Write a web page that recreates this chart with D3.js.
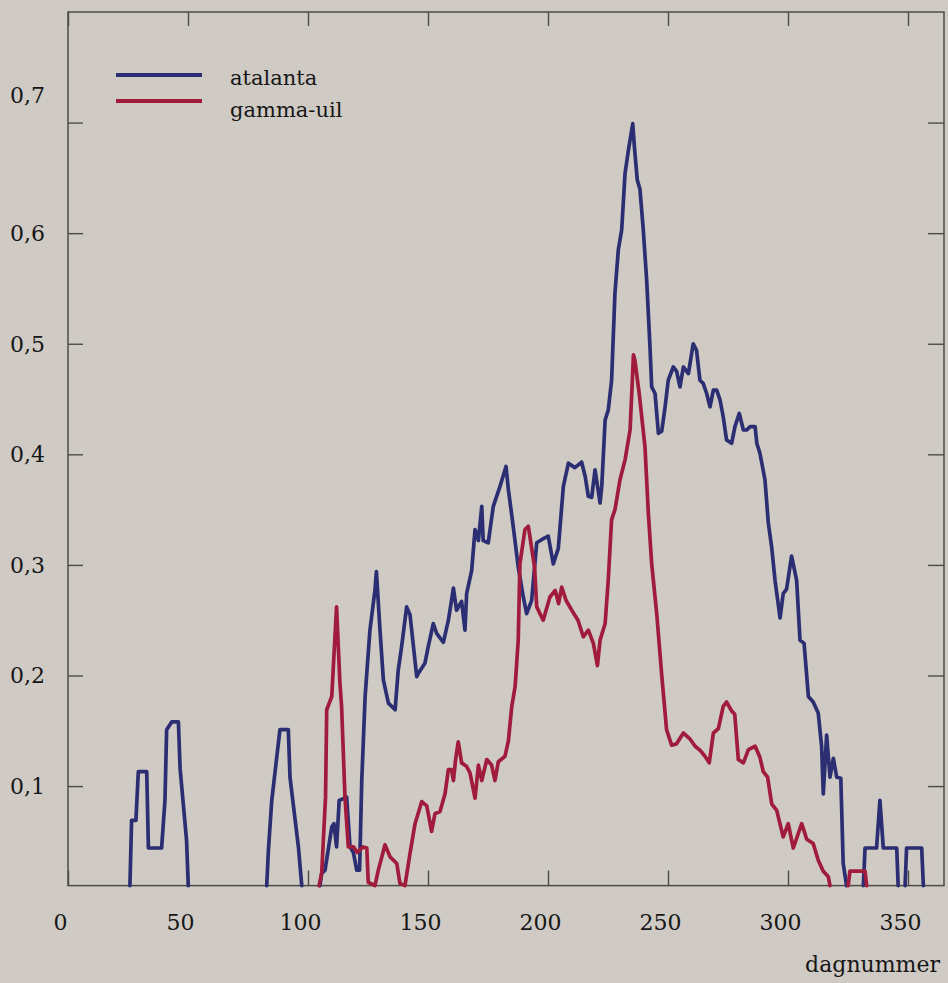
<!DOCTYPE html>
<html>
<head>
<meta charset="utf-8">
<script src="https://cdn.jsdelivr.net/npm/d3@7"></script>
<style>
  html, body { margin: 0; padding: 0; background: #cfcac4; }
  svg { display: block; }
</style>
</head>
<body>
<script>
// Axis ticks
const xTicks = [0, 50, 100, 150, 200, 250, 300, 350];
const yTicks = [0.1, 0.2, 0.3, 0.4, 0.5, 0.6, 0.7];
const xTitle = "dagnummer";

// Series names (legend order)
const seriesNames = ["atalanta", "gamma-uil"];

// Running daily fraction per day number; null marks a gap where the count is zero
const atalanta = [
  [25.8,0],[26.5,0.069],[28.3,0.069],[29.3,0.113],[32.8,0.113],[33.5,0.044],[39.0,0.044],[40.4,0.087],
  [41.1,0.151],[43.2,0.158],[46.0,0.158],[46.7,0.116],[49.4,0.051],[50.1,0],
  null,
  [82.8,0],[83.5,0.042],[84.9,0.087],[88.3,0.151],[91.8,0.151],[92.5,0.108],[96.0,0.045],[97.4,0],
  null,
  [105.0,0],[105.7,0.021],[107.1,0.024],[109.9,0.063],[110.8,0.066],[111.9,0.045],[113.0,0.087],[116.1,0.090],
  [117.5,0.045],[118.9,0.040],[120.3,0.024],[121.5,0.024],[122.4,0.105],[123.8,0.181],[125.8,0.241],[127.9,0.277],
  [128.5,0.294],[130.0,0.241],[131.4,0.196],[133.5,0.175],[136.3,0.169],[137.6,0.205],[139.0,0.226],[141.1,0.262],
  [142.5,0.255],[145.3,0.199],[146.0,0.202],[148.7,0.211],[150.1,0.226],[152.2,0.247],[153.6,0.238],[156.4,0.230],
  [158.5,0.250],[160.6,0.279],[161.9,0.259],[164.0,0.267],[165.4,0.241],[166.1,0.274],[168.2,0.295],[169.6,0.332],
  [171.0,0.322],[172.4,0.353],[173.0,0.322],[175.1,0.320],[177.2,0.353],[180.0,0.371],[182.5,0.389],[183.5,0.368],
  [185.5,0.335],[187.6,0.298],[189.7,0.271],[191.1,0.256],[193.2,0.268],[195.3,0.320],[197.5,0.323],[200.1,0.326],
  [202.2,0.301],[204.3,0.315],[206.4,0.371],[208.5,0.392],[211.2,0.388],[214.0,0.393],[215.5,0.380],[216.8,0.362],
  [218.2,0.361],[219.6,0.386],[221.7,0.356],[222.4,0.371],[223.8,0.431],[225.1,0.440],[226.5,0.467],[227.9,0.546],
  [229.3,0.585],[230.7,0.603],[232.1,0.654],[233.5,0.675],[235.3,0.699],[236.0,0.678],[237.2,0.648],[238.3,0.640],
  [239.7,0.603],[241.1,0.558],[242.5,0.497],[243.2,0.461],[244.6,0.455],[246.0,0.419],[247.4,0.421],[248.8,0.443],
  [250.1,0.467],[252.2,0.479],[253.6,0.475],[255.0,0.461],[256.4,0.479],[258.5,0.473],[260.5,0.500],[261.9,0.494],
  [263.3,0.467],[264.7,0.464],[266.1,0.455],[267.5,0.443],[268.9,0.458],[270.3,0.458],[271.7,0.449],[273.0,0.434],
  [274.4,0.413],[276.5,0.410],[277.9,0.425],[279.7,0.437],[281.4,0.422],[282.8,0.422],[284.2,0.425],[286.3,0.425],
  [287.0,0.410],[288.3,0.401],[290.4,0.377],[291.8,0.338],[293.2,0.316],[294.6,0.286],[296.7,0.252],[298.0,0.274],
  [299.4,0.278],[301.5,0.308],[303.6,0.286],[305.0,0.232],[306.7,0.229],[308.5,0.181],[310.5,0.176],[312.6,0.166],
  [314.0,0.136],[314.7,0.093],[316.1,0.146],[317.5,0.108],[318.9,0.125],[320.3,0.108],[322.0,0.107],[323.0,0.030],
  [324.4,0],
  null,
  [331.4,0],[332.1,0.044],[336.9,0.044],[338.3,0.087],[339.7,0.044],[345.3,0.044],[345.9,0],
  null,
  [348.8,0],[349.4,0.044],[355.7,0.044],[356.4,0]
];

const gammaUil = [
  [104.6,0],[105.7,0.021],[107.3,0.090],[107.8,0.169],[109.9,0.181],[111.9,0.262],[113.3,0.193],[114.0,0.172],
  [115.4,0.090],[116.8,0.045],[119.0,0.045],[120.5,0.040],[123.0,0.045],[124.5,0.044],[125.1,0.013],[127.9,0.010],
  [129.3,0.024],[132.1,0.047],[134.2,0.036],[137.0,0.030],[138.3,0.012],[140.4,0.010],[142.5,0.039],[143.9,0.057],
  [144.6,0.066],[147.4,0.086],[149.5,0.082],[151.5,0.059],[152.9,0.075],[155.0,0.077],[157.1,0.093],[158.5,0.115],
  [159.8,0.115],[160.6,0.105],[161.5,0.124],[162.6,0.140],[164.0,0.121],[166.0,0.118],[167.5,0.112],[169.6,0.089],
  [171.0,0.119],[172.4,0.105],[174.5,0.124],[176.5,0.119],[177.9,0.105],[179.3,0.122],[182.1,0.127],[183.5,0.141],
  [184.9,0.172],[186.3,0.190],[187.6,0.232],[188.3,0.301],[190.4,0.332],[191.8,0.335],[194.4,0.298],[195.3,0.262],
  [198.0,0.250],[200.8,0.271],[203.0,0.277],[204.4,0.265],[205.7,0.280],[207.5,0.268],[209.9,0.259],[212.5,0.250],
  [214.7,0.235],[216.8,0.241],[218.9,0.229],[220.6,0.209],[221.7,0.232],[223.8,0.247],[225.1,0.286],[226.5,0.341],
  [227.9,0.350],[230.0,0.377],[232.1,0.395],[234.2,0.422],[235.0,0.460],[235.6,0.490],[236.2,0.485],[238.0,0.455],
  [240.4,0.407],[241.8,0.347],[243.2,0.301],[245.3,0.256],[247.4,0.200],[249.4,0.151],[251.5,0.137],[253.5,0.138],
  [256.4,0.148],[259.0,0.143],[261.3,0.136],[263.5,0.132],[265.4,0.127],[267.2,0.121],[268.9,0.148],[271.0,0.152],
  [273.0,0.172],[274.4,0.176],[276.5,0.168],[277.8,0.165],[279.3,0.124],[281.4,0.121],[283.5,0.133],[286.3,0.136],
  [288.3,0.126],[289.7,0.113],[291.5,0.108],[293.2,0.084],[295.3,0.078],[298.0,0.054],[300.1,0.066],[302.2,0.044],
  [305.7,0.066],[307.8,0.052],[310.5,0.048],[312.6,0.033],[314.7,0.023],[316.8,0.018],[317.5,0],
  null,
  [325.1,0],[325.8,0.023],[332.1,0.023],[332.8,0]
];

const seriesColors = ["#2b2e72", "#a11b3d"];

// ---- layout ----
const W = 948, H = 983;
const frame = { left: 68, right: 944, top: 12, bottom: 885.6 };
const font = "'DejaVu Serif', serif";
const ink = "#161616";
const axisGrey = "#4d4b49";

const svg = d3.select("body").append("svg")
  .attr("width", W).attr("height", H)
  .style("background", "#cfcac4");

const x = d3.scaleLinear().domain([0, 365]).range([frame.left, frame.right]);
const y = d3.scaleLinear().domain([0.01, 0.8]).range([frame.bottom, frame.top]).clamp(true);

const nl = d3.formatLocale({ decimal: ",", thousands: ".", grouping: [3], currency: ["€", ""] });
const fmtY = nl.format(".1f");

function styleAxis(g) {
  g.select(".domain").remove();
  g.selectAll(".tick line").attr("stroke", axisGrey).attr("stroke-width", 1.4);
  g.selectAll(".tick text").attr("fill", ink).style("font-family", font).style("font-size", "22px");
}

// bottom axis with labels
svg.append("g")
  .attr("transform", `translate(0,${frame.bottom})`)
  .call(d3.axisBottom(x).tickValues(xTicks).tickSize(-15).tickPadding(29))
  .call(styleAxis)
  .call(g => g.selectAll(".tick text").attr("dx", -8));

// top axis, ticks only
svg.append("g")
  .attr("transform", `translate(0,${frame.top})`)
  .call(d3.axisTop(x).tickValues(xTicks).tickSize(-14).tickFormat(""))
  .call(styleAxis);

// left axis with decimal-comma labels; the top label sits above its tick
svg.append("g")
  .attr("transform", `translate(${frame.left},0)`)
  .call(d3.axisLeft(y).tickValues(yTicks).tickSize(-15).tickPadding(23).tickFormat(fmtY))
  .call(styleAxis)
  .call(g => g.selectAll(".tick text").attr("dy", d => d === 0.7 ? "-0.9em" : "0.34em"));

// right axis, ticks only
svg.append("g")
  .attr("transform", `translate(${frame.right},0)`)
  .call(d3.axisRight(y).tickValues(yTicks).tickSize(-16).tickFormat(""))
  .call(styleAxis);

// frame
svg.append("rect")
  .attr("x", frame.left).attr("y", frame.top)
  .attr("width", frame.right - frame.left).attr("height", frame.bottom - frame.top)
  .attr("fill", "none").attr("stroke", axisGrey).attr("stroke-width", 1.5);

// x title
svg.append("text")
  .attr("x", 940).attr("y", 972)
  .attr("text-anchor", "end")
  .attr("fill", ink)
  .style("font-family", font).style("font-size", "22px")
  .text(xTitle);

// series lines
const line = d3.line()
  .defined(d => d !== null)
  .x(d => x(d[0]))
  .y(d => y(d[1]));

[atalanta, gammaUil].forEach((data, i) => {
  svg.append("path")
    .datum(data)
    .attr("fill", "none")
    .attr("stroke", seriesColors[i])
    .attr("stroke-width", 3.7)
    .attr("stroke-linejoin", "round")
    .attr("stroke-linecap", "round")
    .attr("d", line);
});

// legend
const legend = svg.append("g");
seriesNames.forEach((name, i) => {
  legend.append("line")
    .attr("x1", 116).attr("x2", 202)
    .attr("y1", 75 + i * 26).attr("y2", 75 + i * 26)
    .attr("stroke", seriesColors[i]).attr("stroke-width", 3.8);
  legend.append("text")
    .attr("x", 230).attr("y", 85 + i * 32)
    .attr("fill", ink)
    .style("font-family", font).style("font-size", "21px")
    .text(name);
});
</script>
</body>
</html>
